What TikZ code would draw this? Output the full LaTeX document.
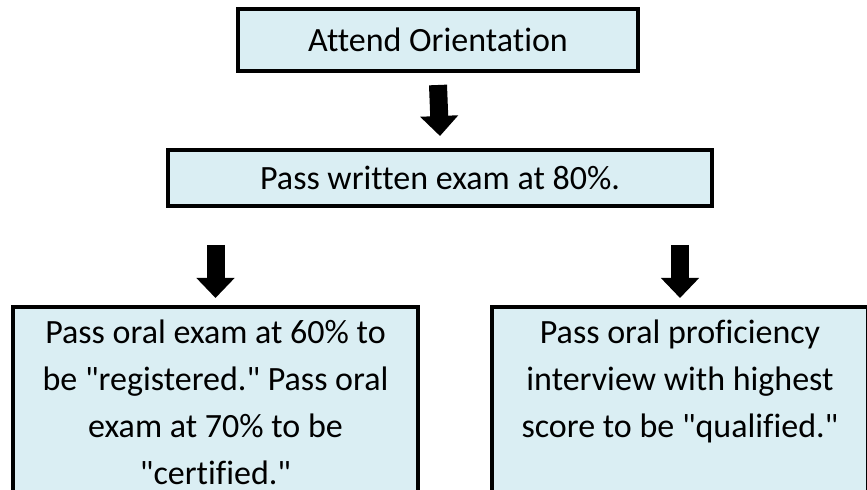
\documentclass[tikz,border=0pt]{standalone}
\usepackage{fontspec}
\setmainfont{Carlito}[Ligatures={TeXOff,CommonOff}]
\usetikzlibrary{arrows.meta}
\definecolor{boxblue}{HTML}{DAEEF3}
\tikzset{
  stepbox/.style={draw=black, line width=2pt, fill=boxblue, inner sep=0pt},
  steptext/.style={inner sep=0pt, align=center},
  bigarrow/.style={line width=9pt, -{Triangle[width=18.5pt,length=10pt]}}
}
\begin{document}
\begin{tikzpicture}[x=0.5pt, y=-0.5pt, every node/.style={font=\fontsize{17}{23.5}\selectfont}]
	\useasboundingbox (0,0) rectangle (867,490);
	% upper steps
	\node[stepbox, minimum width=200pt, minimum height=31pt] (orient) at (438,40) {Attend Orientation};
	\node[stepbox, minimum width=272pt, minimum height=28pt] (written) at (440,178) {Pass written exam at 80\%.};
	% lower steps
	\node[stepbox, minimum width=202.5pt, minimum height=96.5pt] (oral) at (215.5,403.5) {};
	\node[stepbox, minimum width=188pt, minimum height=96.5pt] (interview) at (680,403.5) {};
	\node[steptext, anchor=north] (oraltext) at ([yshift=-7pt]oral.north) {Pass oral exam at 60\% to\\be "registered." Pass oral\\exam at 70\% to be\\"certified."};
	\node[steptext, anchor=north] (interviewtext) at ([yshift=-7pt]interview.north) {Pass oral proficiency\\interview with highest\\score to be "qualified."};
	% arrows
	\draw[bigarrow] ([yshift=-6pt]orient.south) -- ([yshift=6pt]written.north);
	\draw[bigarrow] ([yshift=-18.5pt]written.south -| oral.north) -- ([yshift=3.5pt]oral.north);
	\draw[bigarrow] ([yshift=-18.5pt]written.south -| interview.north) -- ([yshift=3.5pt]interview.north);
\end{tikzpicture}
\end{document}
